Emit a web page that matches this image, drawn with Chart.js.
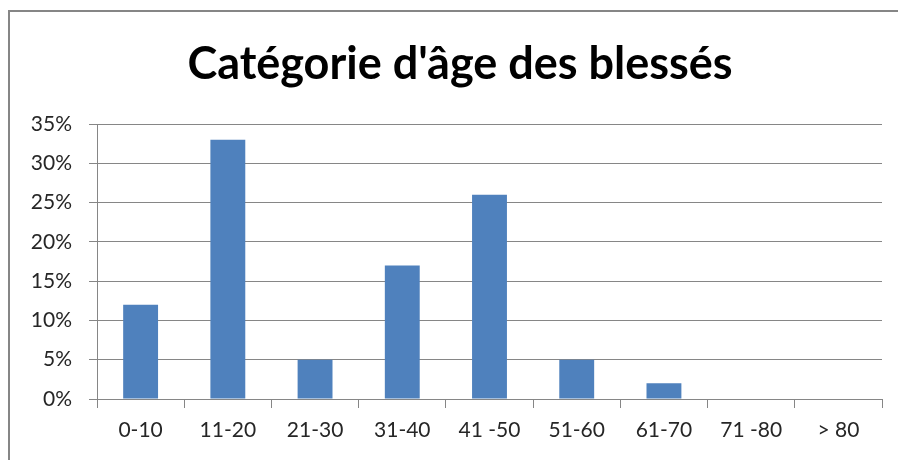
<!DOCTYPE html>
<html>
<head>
<meta charset="utf-8">
<script src="https://cdn.jsdelivr.net/npm/chart.js@4"></script>
<style>
  body { margin: 0; background: #fff; }
  #frame { position: absolute; left: 8px; top: 10px; width: 900px; height: 460px; border: 2px solid #868686; }
  #wrap { position: absolute; left: 0; top: 0; width: 898px; height: 460px; }
</style>
</head>
<body>
<div id="frame"></div>
<div id="wrap"><canvas id="myChart" width="898" height="460"></canvas></div>
<script>
const ctx = document.getElementById('myChart');

// categories d'age et pourcentages
const categories = ['0-10', '11-20', '21-30', '31-40', '41 -50', '51-60', '61-70', '71 -80', '> 80'];
const pourcentages = [12, 33, 5, 17, 26, 5, 2, 0, 0];
const yTicks = [0, 5, 10, 15, 20, 25, 30, 35];

const gris = '#868686';

// le titre de l'original est un peu decale vers la droite
const decalerTitre = {
  id: 'decalerTitre',
  afterLayout(chart) {
    if (chart.titleBlock) chart.titleBlock.left = 38;
  }
};

new Chart(ctx, {
  type: 'bar',
  data: {
    labels: categories,
    datasets: [
      {
        label: 'Blessés',
        data: pourcentages,
        backgroundColor: '#4F81BD',
        borderColor: '#4F81BD',
        borderWidth: 0,
        barPercentage: 0.4,
        categoryPercentage: 1
      }
    ]
  },
  options: {
    responsive: false,
    animation: false,
    layout: { padding: { left: 0, right: 16, top: 0, bottom: 0 } },
    plugins: {
      legend: { display: false },
      tooltip: { enabled: false },
      title: {
        display: true,
        text: "Catégorie d'âge des blessés",
        color: '#000',
        font: { family: 'Lato', size: 45, weight: 'bold', lineHeight: 1.2 },
        padding: { top: 37, bottom: 33 }
      }
    },
    scales: {
      x: {
        grid: { display: true, drawOnChartArea: false, drawTicks: true, tickLength: 9, color: gris },
        border: { color: gris },
        ticks: { color: '#262626', font: { family: 'Lato', size: 21 }, padding: 10, maxRotation: 0 },
        afterFit: (scale) => { scale.height = 61; }
      },
      y: {
        min: 0,
        max: 35,
        afterBuildTicks: (scale) => { scale.ticks = yTicks.map(v => ({ value: v })); },
        grid: { color: gris, tickLength: 8 },
        border: { color: gris },
        ticks: {
          color: '#262626',
          font: { family: 'Lato', size: 21 },
          padding: 17,
          callback: (v) => v + '%'
        },
        afterFit: (scale) => { scale.width = 97; }
      }
    }
  },
  plugins: [decalerTitre]
});
</script>
</body>
</html>
